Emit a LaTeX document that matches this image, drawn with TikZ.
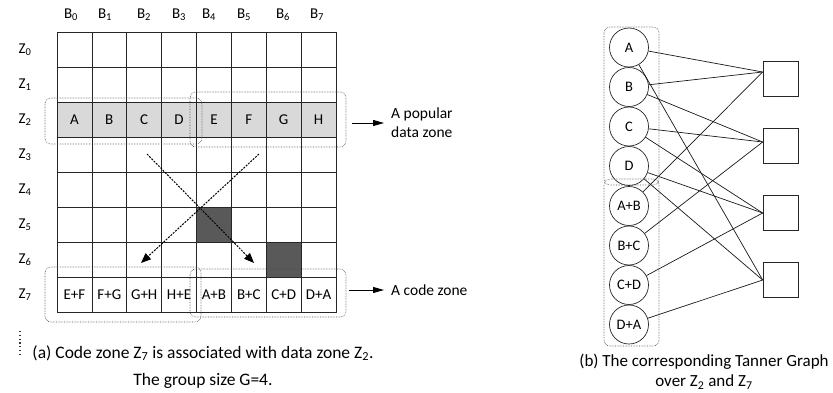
\documentclass[tikz,border=0pt]{standalone}
\usepackage{fontspec}
\setmainfont{Carlito}
\usetikzlibrary{arrows.meta}
\definecolor{lightcell}{HTML}{D9D9D9}
\definecolor{darkcell}{HTML}{595959}
\begin{document}
\begin{tikzpicture}[x=1pt,y=-1pt,
  cell/.style={draw=black!85, line width=0.7pt, minimum width=34.875pt, minimum height=35pt, inner sep=0pt, outer sep=0pt, font=\fontsize{15}{17}\selectfont},
  lbl/.style={inner sep=0pt, font=\fontsize{15}{17}\selectfont},
  dotbox/.style={draw=black!70, densely dotted, line width=0.6pt, rounded corners=6pt},
  dasharrow/.style={line width=1pt, dash pattern=on 2pt off 1.2pt, -{Triangle[length=10pt,width=8pt]}},
  solidarrow/.style={line width=0.8pt, -{Triangle[length=11pt,width=6pt]}},
  vnode/.style={draw=black!85, circle, line width=0.7pt, minimum size=39pt, inner sep=0pt, font=\fontsize{14.5}{16}\selectfont},
  cnode/.style={draw=black!85, line width=0.7pt, minimum size=35pt, inner sep=0pt},
  tedge/.style={line width=0.7pt, draw=black!90},
  captext/.style={align=center, inner sep=0pt}
]
\useasboundingbox (0,0) rectangle (833,392);
% ---- grid ----
\foreach \r in {0,1,3,4,5,6}
  \foreach \c in {0,...,7}
    \node[cell] (c\r\c) at ({57+34.875*(\c+0.5)},{32+35*(\r+0.5)}) {};
\foreach \t [count=\i from 0] in {A,B,C,D,E,F,G,H}
  \node[cell, fill=lightcell] (c2\i) at ({57+34.875*(\i+0.5)},{32+35*2.5}) {\t};
\foreach \t [count=\i from 0] in {E+F,F+G,G+H,H+E,A+B,B+C,C+D,D+A}
  \node[cell] (c7\i) at ({57+34.875*(\i+0.5)},{32+35*7.5}) {\t};
\node[cell, fill=darkcell] (c54) at ({57+34.875*4.5},{32+35*5.5}) {};
\node[cell, fill=darkcell] (c66) at ({57+34.875*6.5},{32+35*6.5}) {};
% ---- column / row labels ----
\foreach \x [count=\i from 0] in {71,105,144,179,209,244,283,317}
  \node[lbl] (b\i) at (\x,15) {B\textsubscript{\i}};
\foreach \r in {0,...,7}
  \node[lbl] (z\r) at (25,{49.5+35*\r}) {Z\textsubscript{\r}};
\draw[black!80, line width=1.2pt, dash pattern=on 1.2pt off 2.6pt] (20,331) -- (20,357);
% ---- dotted groups ----
\draw[dotbox] (45,98) rectangle (202,144);
\draw[dotbox] (190,92) rectangle (346,147);
\draw[dotbox] (45,267) rectangle (201,322);
\draw[dotbox] (190,269) rectangle (346,317);
% ---- dashed arrows ----
\coordinate (d1s) at (147,154);
\coordinate (d1e) at (254,263);
\coordinate (d2s) at (259,154);
\coordinate (d2e) at (141,263);
\draw[dasharrow] (d1s) -- (d1e);
\draw[dasharrow] (d2s) -- (d2e);
% ---- side labels ----
\node[lbl, anchor=west, align=left, font=\fontsize{15.5}{19}\selectfont] (pop) at (391,123) {A popular\\data zone};
\node[lbl, anchor=west, font=\fontsize{15.5}{17}\selectfont] (code) at (391,290) {A code zone};
\coordinate (a1s) at (352,123);
\coordinate (a1e) at (384,123);
\coordinate (a2s) at (349,290);
\coordinate (a2e) at (384,290);
\draw[solidarrow] (a1s) -- (a1e);
\draw[solidarrow] (a2s) -- (a2e);
% ---- captions ----
\node[captext, font=\fontsize{17.5}{27}\selectfont] (capa) at (203,367) {(a) Code zone Z\textsubscript{7} is associated with data zone Z\textsubscript{2}.\\The group size G=4.};
\node[captext, font=\fontsize{17}{20}\selectfont] (capb) at (704,372) {(b) The corresponding Tanner Graph\\over Z\textsubscript{2} and Z\textsubscript{7}};
% ---- Tanner graph ----
\node[vnode] (A) at (629,47.5) {A};
\node[vnode] (B) at (629,87) {B};
\node[vnode] (C) at (629,126.5) {C};
\node[vnode] (D) at (629,166) {D};
\node[vnode] (AB) at (629,206) {A+B};
\node[vnode] (BC) at (629,245.5) {B+C};
\node[vnode] (CD) at (629,285) {C+D};
\node[vnode] (DA) at (629,324.5) {D+A};
\node[cnode] (s1) at (780.5,79) {};
\node[cnode] (s2) at (780.5,146) {};
\node[cnode] (s3) at (780.5,213) {};
\node[cnode] (s4) at (780.5,280) {};
\coordinate (p1) at ([yshift=7pt]s1.west);
\coordinate (p2) at ([yshift=4pt]s2.west);
\coordinate (p3) at (s3.west);
\coordinate (p4) at (s4.west);
\draw[tedge] (A) -- (p1);
\draw[tedge] (B) -- (p1);
\draw[tedge] (AB) -- (p1);
\draw[tedge] (B) -- (p2);
\draw[tedge] (C) -- (p2);
\draw[tedge] (BC) -- (p2);
\draw[tedge] (C) -- (p3);
\draw[tedge] (D) -- (p3);
\draw[tedge] (CD) -- (p3);
\draw[tedge] (D) -- (p4);
\draw[tedge] (A) -- (p4);
\draw[tedge] (DA) -- (p4);
\draw[dotbox] (604,27) rectangle (659,185);
\draw[dotbox] (604,179) rectangle (659,346);
\end{tikzpicture}
\end{document}
